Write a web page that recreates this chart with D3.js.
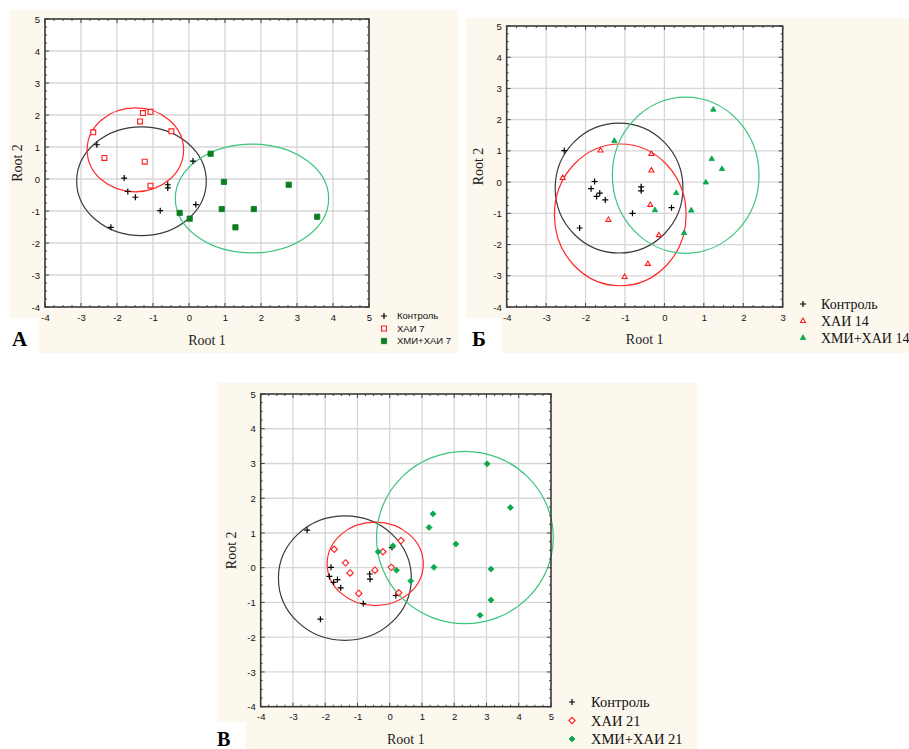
<!DOCTYPE html>
<html><head><meta charset="utf-8">
<script src="https://cdn.jsdelivr.net/npm/d3@7"></script>
<style>body{margin:0;background:#fff}svg{display:block}</style>
</head><body><svg id="c" width="909" height="749"></svg>
<script>
// ---------------- DATA ----------------
const ticksA = [-4,-3,-2,-1,0,1,2,3,4,5];
const ticksB = [-4,-3,-2,-1,0,1,2,3];
const ticksY = [-4,-3,-2,-1,0,1,2,3,4,5];

const legendA = ["Контроль","ХАИ 7","ХМИ+ХАИ 7"];
const legendB = ["Контроль","ХАИ 14","ХМИ+ХАИ 14"];
const legendC = ["Контроль","ХАИ 21","ХМИ+ХАИ 21"];

// Panel A (day 7): [Root1, Root2]
const aControl = [[-2.56,1.07],[-1.80,0.03],[-1.70,-0.39],[-1.49,-0.57],[-2.17,-1.51],[-0.80,-0.99],[-0.59,-0.18],[-0.59,-0.28],[0.11,0.56],[0.19,-0.80]];
const aHAI = [[-2.66,1.46],[-2.35,0.66],[-1.28,2.06],[-1.07,2.10],[-1.36,1.80],[-0.49,1.49],[-1.23,0.54],[-1.07,-0.21]];
const aHMI = [[0.60,0.79],[0.97,-0.09],[2.77,-0.18],[-0.26,-1.06],[0.02,-1.24],[0.91,-0.94],[1.80,-0.94],[1.29,-1.51],[3.56,-1.18]];
// ellipses [cx, cy, rx, ry]
const aEllipses = [[-1.32,-0.07,1.80,1.70],[-1.49,0.91,1.34,1.31],[1.75,-0.61,2.13,1.70]];

// Panel Б (day 14)
const bControl = [[-2.54,1.01],[-1.77,0.02],[-1.86,-0.21],[-1.64,-0.35],[-1.72,-0.46],[-1.50,-0.57],[-2.15,-1.47],[-0.59,-0.15],[-0.59,-0.28],[-0.81,-1.00],[0.18,-0.82]];
const bHAI = [[-2.58,0.13],[-1.62,1.01],[-0.33,0.90],[-0.33,0.37],[-0.36,-0.73],[-1.42,-1.21],[-0.14,-1.70],[-0.42,-2.62],[-1.01,-3.04]];
const bHMI = [[-1.27,1.32],[1.24,2.32],[1.20,0.74],[1.46,0.42],[1.05,-0.01],[0.30,-0.35],[-0.24,-0.90],[0.68,-0.91],[0.50,-1.63]];
const bEllipses = [[-1.15,-0.19,1.62,2.08],[-1.12,-1.05,1.67,2.27],[0.54,0.22,1.86,2.50]];

// Panel В (day 21)
const cControl = [[-2.56,1.08],[-1.82,0.01],[-1.87,-0.25],[-1.62,-0.34],[-1.52,-0.58],[-1.74,-0.42],[-2.15,-1.48],[-0.61,-0.33],[-0.62,-0.18],[-0.82,-1.03],[0.07,0.58],[0.19,-0.80]];
const cHAI = [[-1.72,0.53],[-1.37,0.14],[-1.23,-0.15],[-0.96,-0.74],[-0.46,-0.07],[-0.21,0.46],[0.05,0.01],[0.35,0.78],[0.28,-0.72]];
const cHMI = [[-0.36,0.46],[0.10,0.63],[0.21,-0.07],[0.65,-0.38],[1.22,1.16],[1.34,1.55],[1.37,0.01],[2.05,0.68],[3.02,2.99],[3.74,1.73],[3.14,-0.04],[3.14,-0.93],[2.80,-1.37]];
const cEllipses = [[-1.39,-0.30,2.06,1.79],[-0.45,0.11,1.49,1.20],[2.33,0.87,2.74,2.48]];

// ---------------- DRAWING ----------------
const svg = d3.select("#c");
svg.append("rect").attr("width",909).attr("height",749).attr("fill","#fff");
const CREAM = "#fdf8ed";
const ellColors = ["#3a3a3a","#ff2a2a","#3cc47c"];

function marker(g, type, color, px, py) {
  if (type === "plus") {
    g.append("path").attr("d",`M${px-3},${py}H${px+3}M${px},${py-3}V${py+3}`)
      .attr("stroke","#000").attr("stroke-width",1.2).attr("fill","none");
    return;
  }
  const filled = type.endsWith("f");
  let d;
  if (type.startsWith("dia")) {
    const r = filled ? 3 : 3.2;
    d = `M0,${-r}L${r},0L0,${r}L${-r},0Z`;
  } else if (type.startsWith("tri")) {
    d = d3.symbol().type(d3.symbolTriangle).size(filled ? 13 : 11)();
  } else {
    d = d3.symbol().type(d3.symbolSquare).size(filled ? 28 : 24)();
  }
  g.append("path").attr("d", d)
    .attr("transform",`translate(${px},${py})`)
    .attr("fill", filled ? color : "#fff")
    .attr("stroke", color).attr("stroke-width", filled ? 0.8 : 1.1);
}

function panel(cfg) {
  const g = svg.append("g");
  cfg.bg.forEach(r => g.append("rect").attr("x",r[0]).attr("y",r[1]).attr("width",r[2]).attr("height",r[3]).attr("fill",CREAM));
  g.append("rect").attr("x",cfg.x0).attr("y",cfg.y0).attr("width",cfg.x1-cfg.x0).attr("height",cfg.y1-cfg.y0).attr("fill","#fff");

  const x = d3.scaleLinear().domain(cfg.xDomain).range([cfg.x0,cfg.x1]);
  const y = d3.scaleLinear().domain([-4,5]).range([cfg.y1,cfg.y0]);

  const grid = g.append("g").attr("stroke","#d6d6d6").attr("stroke-width",1.3);
  cfg.xTicks.slice(1,-1).forEach(t => grid.append("line").attr("x1",x(t)).attr("x2",x(t)).attr("y1",cfg.y0).attr("y2",cfg.y1));
  ticksY.slice(1,-1).forEach(t => grid.append("line").attr("y1",y(t)).attr("y2",y(t)).attr("x1",cfg.x0).attr("x2",cfg.x1));

  const tk = g.append("g").attr("stroke","#444").attr("stroke-width",1);
  d3.range(cfg.xDomain[0], cfg.xDomain[1]+0.001, 0.25).forEach(t => {
    const L = Math.abs(t-Math.round(t))<1e-6 ? 4 : 2;
    tk.append("line").attr("x1",x(t)).attr("x2",x(t)).attr("y1",cfg.y0).attr("y2",cfg.y0+L);
    tk.append("line").attr("x1",x(t)).attr("x2",x(t)).attr("y1",cfg.y1).attr("y2",cfg.y1-L);
  });
  d3.range(-4, 5.001, 0.25).forEach(t => {
    const L = Math.abs(t-Math.round(t))<1e-6 ? 4 : 2;
    tk.append("line").attr("y1",y(t)).attr("y2",y(t)).attr("x1",cfg.x0).attr("x2",cfg.x0+L);
    tk.append("line").attr("y1",y(t)).attr("y2",y(t)).attr("x1",cfg.x1).attr("x2",cfg.x1-L);
  });

  cfg.ellipses.forEach((e,i) => {
    g.append("ellipse").attr("cx",x(e[0])).attr("cy",y(e[1]))
      .attr("rx",x(e[0]+e[2])-x(e[0])).attr("ry",y(e[1])-y(e[1]+e[3]))
      .attr("fill","none").attr("stroke",ellColors[i]).attr("stroke-width",1.2);
  });

  cfg.series.forEach(s => s.data.forEach(d => marker(g, s.type, s.color, x(d[0]), y(d[1]))));

  g.append("rect").attr("x",cfg.x0).attr("y",cfg.y0).attr("width",cfg.x1-cfg.x0).attr("height",cfg.y1-cfg.y0)
    .attr("fill","none").attr("stroke","#3a3a3a").attr("stroke-width",1.6);

  const ax = g.append("g").attr("transform",`translate(0,${cfg.y1})`)
    .call(d3.axisBottom(x).tickValues(cfg.xTicks).tickSize(0).tickPadding(7));
  const ay = g.append("g").attr("transform",`translate(${cfg.x0},0)`)
    .call(d3.axisLeft(y).tickValues(ticksY).tickSize(0).tickPadding(5));
  [ax,ay].forEach(a => {
    a.select(".domain").remove();
    a.selectAll("text").attr("font-family","'Liberation Sans', Arial, sans-serif").attr("font-size",9.5).attr("fill","#111")
      .text(d => d<0 ? "-"+Math.abs(d) : String(d));
  });

  g.append("text").attr("x",(cfg.x0+cfg.x1)/2).attr("y",cfg.rootY).attr("text-anchor","middle")
    .attr("font-family","'Liberation Serif', 'Times New Roman', serif").attr("font-size",14).attr("fill","#222").text("Root 1");
  g.append("text").attr("transform",`translate(${cfg.root2X},${(cfg.y0+cfg.y1)/2}) rotate(-90)`).attr("text-anchor","middle").attr("dy","0.35em")
    .attr("font-family","'Liberation Serif', 'Times New Roman', serif").attr("font-size",14).attr("fill","#222").text("Root 2");

  g.append("text").attr("x",cfg.letter[0]).attr("y",cfg.letter[1])
    .attr("font-family","'Liberation Serif', 'Times New Roman', serif").attr("font-weight","bold").attr("font-size",cfg.letter[3]).attr("fill","#000").text(cfg.letter[2]);

  cfg.series.forEach((s,i) => {
    const ly = cfg.legend.y + i*cfg.legend.dy;
    marker(g, s.type, s.color, cfg.legend.mx, ly);
    g.append("text").attr("x",cfg.legend.tx).attr("y",ly).attr("dy","0.35em")
      .attr("font-family",cfg.legend.font).attr("font-size",cfg.legend.size).attr("fill","#111").text(s.name);
  });
}

panel({
  x0:45, x1:369, y0:19, y1:307, xDomain:[-4,5], xTicks:ticksA,
  bg:[[9,10,449,308],[39,318,419,35]],
  ellipses:aEllipses,
  series:[
    {name:legendA[0], type:"plus", color:"#000", data:aControl},
    {name:legendA[1], type:"sq", color:"#ff1a1a", data:aHAI},
    {name:legendA[2], type:"sqf", color:"#0a7d20", data:aHMI}
  ],
  rootY:345, root2X:17, letter:[12,346,"А",21],
  legend:{mx:384, tx:397, y:316, dy:12.5, font:"'Liberation Sans', Arial, sans-serif", size:9.5}
});

panel({
  x0:506.7, x1:782.7, y0:26, y1:307, xDomain:[-4,3], xTicks:ticksB,
  bg:[[466,18,443,300],[501,318,408,35]],
  ellipses:bEllipses,
  series:[
    {name:legendB[0], type:"plus", color:"#000", data:bControl},
    {name:legendB[1], type:"tri", color:"#ff1a1a", data:bHAI},
    {name:legendB[2], type:"trif", color:"#0aa84f", data:bHMI}
  ],
  rootY:344, root2X:478, letter:[472,346,"Б",21],
  legend:{mx:803, tx:821, y:304, dy:17, font:"'Liberation Serif', 'Times New Roman', serif", size:14}
});

panel({
  x0:260.7, x1:551, y0:394, y1:706.7, xDomain:[-4,5], xTicks:ticksA,
  bg:[[217,383,480,339],[245,722,452,27]],
  ellipses:cEllipses,
  series:[
    {name:legendC[0], type:"plus", color:"#000", data:cControl},
    {name:legendC[1], type:"dia", color:"#ff1a1a", data:cHAI},
    {name:legendC[2], type:"diaf", color:"#0aa84f", data:cHMI}
  ],
  rootY:744, root2X:231, letter:[217,746,"В",20],
  legend:{mx:572, tx:591, y:702, dy:18.5, font:"'Liberation Serif', 'Times New Roman', serif", size:14.5}
});
</script>
</body></html>
